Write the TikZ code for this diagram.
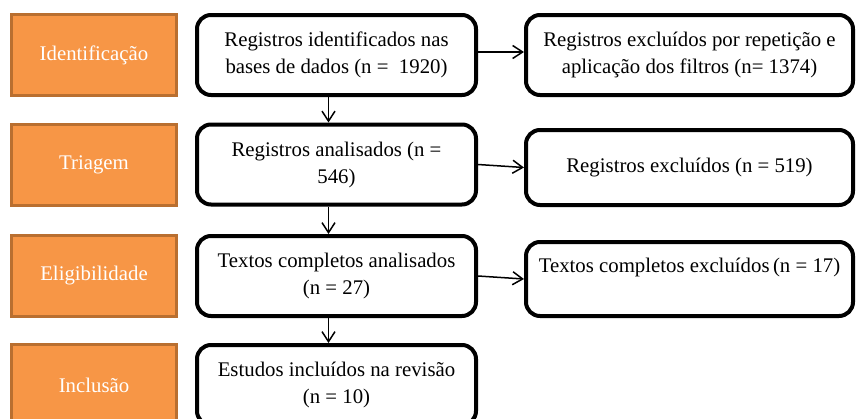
\documentclass[tikz,border=0pt]{standalone}
\usepackage{fontspec}
\setmainfont{Liberation Serif}
\newfontfamily\fonteserif{Liberation Serif}
\usetikzlibrary{arrows.meta}
\definecolor{laranja}{HTML}{F79646}
\definecolor{laranjaborda}{HTML}{B96F30}
\tikzset{etapa/.style = {shape=rectangle,draw=laranjaborda,fill=laranja,line width=1.5pt,text=white,minimum width=82.5pt,minimum height=40.5pt}}
\tikzset{caixa/.style = {shape=rectangle,rounded corners=7pt,draw,line width=2pt,fill=white,align=center,minimum height=40pt}}
\tikzset{seta/.style = {-{Straight Barb[length=5pt,width=6.5pt]},line width=0.75pt}}

\begin{document}
\begin{tikzpicture}[x=0.5pt,y=-0.5pt,font=\fonteserif\fontsize{10.4}{13.5}\selectfont]
  \clip (0,0) rectangle (856,418);

  % etapas
  \node[etapa] (id) at (94, 55) {Identificação};
  \node[etapa] (tr) at (94, 164.5) {Triagem};
  \node[etapa] (el) at (94, 276) {Eligibilidade};
  \node[etapa] (in) at (94, 385) {Inclusão};

  % fluxo principal
  \node[caixa, minimum width=139.5pt] (b1) at (336.5, 55) {Registros identificados nas\\bases de dados (n =\ \ 1920)};
  \node[caixa, minimum width=139.5pt] (b2) at (336.5, 164.5) {Registros analisados (n =\\546)};
  \node[caixa, minimum width=139.5pt] (b3) at (336.5, 276) {Textos completos analisados\\(n = 27)};
  \node[caixa, minimum width=139.5pt] (b4) at (336.5, 385) {Estudos incluídos na revisão\\(n = 10)};

  % excluidos
  \node[caixa, minimum width=163.5pt] (r1) at (689.5, 55) {Registros excluídos por repetição e\\aplicação dos filtros (n= 1374)};
  \node[caixa, minimum width=163.5pt, minimum height=37.5pt] (r2) at (689.5, 167.5) {Registros excluídos (n = 519)};
  \node[caixa, minimum width=163.5pt, minimum height=37pt, text depth=14pt] (r3) at (689.5, 279) {Textos completos excluídos\,(n = 17)};

  \draw[seta] ([xshift=-4pt]b1.south) -- ([xshift=-4pt]b2.north);
  \draw[seta] ([xshift=-4pt]b2.south) -- ([xshift=-4pt]b3.north);
  \draw[seta] ([xshift=-4pt]b3.south) -- ([xshift=-4pt]b4.north);
  \draw[seta] ([yshift=1.5pt]b1.east) -- ([yshift=1.5pt]r1.west);
  \draw[seta] (b2.east) -- (r2.west);
  \draw[seta] (b3.east) -- (r3.west);
\end{tikzpicture}
\end{document}
